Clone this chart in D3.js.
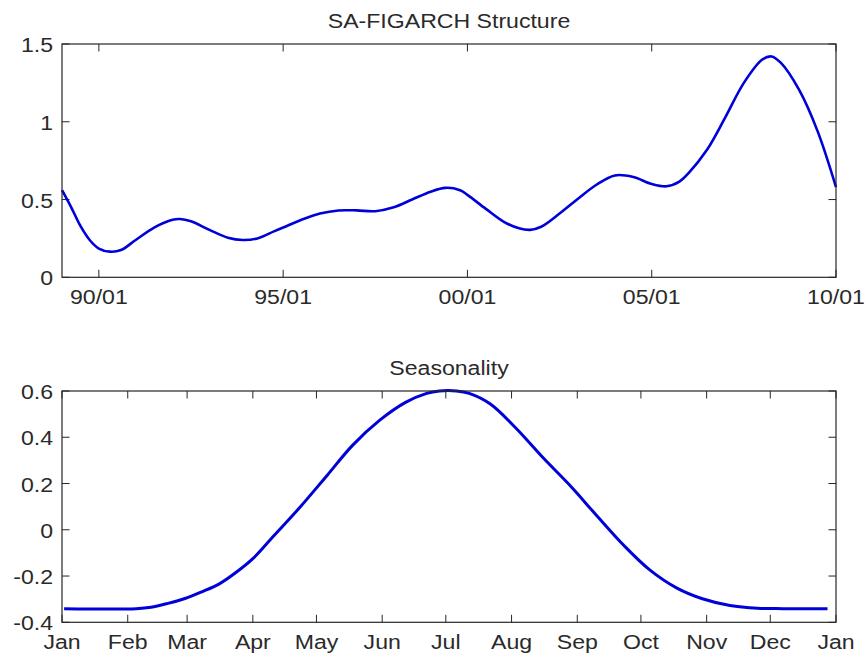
<!DOCTYPE html>
<html><head><meta charset="utf-8">
<script src="https://cdn.jsdelivr.net/npm/d3@7"></script>
<style>body{margin:0;background:#fff}svg{display:block}text{font-family:"Liberation Sans",Arial,sans-serif;fill:#2a2a2a}</style>
</head><body>
<svg id="c" width="868" height="659"></svg>
<script>
// ---- Data: SA-FIGARCH structure (decimal year, value)
const topYears = [1989.0,1989.25,1989.5,1989.75,1990.0,1990.3,1990.6,1991.0,1991.5,1992.0,1992.2,1992.5,1993.0,1993.5,1993.9,1994.3,1994.75,1995.0,1995.5,1996.0,1996.5,1997.0,1997.5,1998.0,1998.5,1999.0,1999.4,1999.8,2000.0,2000.5,2001.0,2001.4,2001.7,2002.0,2002.5,2003.0,2003.5,2004.0,2004.5,2005.0,2005.4,2005.75,2006.0,2006.5,2007.0,2007.5,2008.0,2008.25,2008.5,2009.0,2009.5,2010.0];
const topValues = [0.56,0.45,0.33,0.24,0.185,0.165,0.175,0.24,0.32,0.37,0.375,0.36,0.305,0.255,0.24,0.25,0.295,0.32,0.37,0.41,0.43,0.43,0.425,0.45,0.5,0.55,0.575,0.56,0.53,0.44,0.355,0.315,0.305,0.325,0.41,0.505,0.595,0.655,0.645,0.6,0.585,0.615,0.67,0.82,1.03,1.25,1.40,1.42,1.38,1.205,0.94,0.58];
const topXTicks = [1990,1995,2000,2005,2010];
const topXLabels = ["90/01","95/01","00/01","05/01","10/01"];
const topYTicks = [0,0.5,1,1.5];

// ---- Data: Seasonality (day of year, value)
const seasDays = [1,35,42,50,58,66,74,82,90,100,112,125,137,150,162,172,178,186,192,202,214,227,240,252,265,277,290,302,315,328,340,361];
const seasValues = [-0.341,-0.341,-0.335,-0.318,-0.297,-0.268,-0.235,-0.185,-0.125,-0.025,0.095,0.235,0.365,0.475,0.551,0.59,0.6,0.6,0.59,0.544,0.44,0.31,0.187,0.063,-0.068,-0.172,-0.252,-0.298,-0.327,-0.339,-0.341,-0.341];
const monthStarts = [0,31,59,90,120,151,181,212,243,273,304,334,365];
const monthLabels = ["Jan","Feb","Mar","Apr","May","Jun","Jul","Aug","Sep","Oct","Nov","Dec","Jan"];
const seasYTicks = [-0.4,-0.2,0,0.2,0.4,0.6];

const svg = d3.select("#c");
const FS = 21, SX = 1.1, AX = "#262626", LINE = "#0000d8";

function txt(g, x, y, s, anchor, base){
  g.append("text").attr("transform", `translate(${x},${y}) scale(${SX},1)`)
   .attr("text-anchor", anchor).attr("dominant-baseline", base || "auto")
   .attr("font-size", FS).text(s);
}

function panel(opt){
  const L = 62, R = 836, T = opt.top, B = opt.bottom;
  const g = svg.append("g");
  const x = d3.scaleLinear().domain(opt.xdom).range([L, R]);
  const y = d3.scaleLinear().domain(opt.ydom).range([B, T]);
  const tl = 7.5;
  const tk = g.append("g").attr("stroke", AX).attr("stroke-width", 1);
  opt.xticks.forEach(v => {
    tk.append("line").attr("x1", x(v)).attr("x2", x(v)).attr("y1", B).attr("y2", B - tl);
    tk.append("line").attr("x1", x(v)).attr("x2", x(v)).attr("y1", T).attr("y2", T + tl);
  });
  opt.yticks.forEach(v => {
    tk.append("line").attr("y1", y(v)).attr("y2", y(v)).attr("x1", L).attr("x2", L + tl);
    tk.append("line").attr("y1", y(v)).attr("y2", y(v)).attr("x1", R).attr("x2", R - tl);
  });
  const line = d3.line().x((d,i) => x(opt.xs[i])).y(d => y(d)).curve(opt.curve);
  g.append("path").datum(opt.ys).attr("d", line).attr("fill", "none")
   .attr("stroke", LINE).attr("stroke-width", opt.lw).attr("stroke-linejoin", "round");
  g.append("rect").attr("x", L).attr("y", T).attr("width", R - L).attr("height", B - T)
   .attr("fill", "none").attr("stroke", AX).attr("stroke-width", 1.2);
  opt.xticks.forEach((v,i) => txt(g, x(v), B + 27, opt.xlabels[i], "middle"));
  opt.yticks.forEach(v => txt(g, L - 9, y(v) + 1, opt.yfmt(v), "end", "central"));
  txt(g, (L + R) / 2, T - 16, opt.title, "middle");
}

panel({top: 44, bottom: 277.3, xdom: [1989, 2010], ydom: [0, 1.5],
  xs: topYears, ys: topValues, xticks: topXTicks, xlabels: topXLabels,
  yticks: topYTicks, yfmt: v => String(v), title: "SA-FIGARCH Structure",
  curve: d3.curveCatmullRom.alpha(0.5), lw: 2.6});

panel({top: 391, bottom: 622.3, xdom: [0, 365], ydom: [-0.4, 0.6],
  xs: seasDays, ys: seasValues, xticks: monthStarts, xlabels: monthLabels,
  yticks: seasYTicks, yfmt: v => (v === 0 ? "0" : d3.format(".1f")(v).replace("\u2212","-")), title: "Seasonality",
  curve: d3.curveCatmullRom.alpha(0.5), lw: 3});
</script>
</body></html>
